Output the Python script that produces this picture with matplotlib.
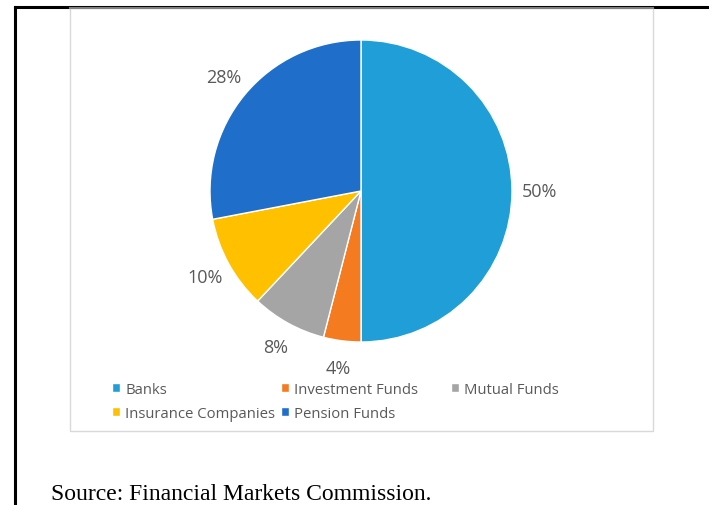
import matplotlib
matplotlib.use("Agg")
import matplotlib.pyplot as plt
from matplotlib.lines import Line2D
from matplotlib.patches import Rectangle

# data
categories = ["Banks", "Investment Funds", "Mutual Funds", "Insurance Companies", "Pension Funds"]
shares = [50, 4, 8, 10, 28]
colors = ["#1F9ED8", "#F47B20", "#A5A5A5", "#FFC000", "#1F6FCA"]
source_note = "Source: Financial Markets Commission."

W, H = 709, 506
fig = plt.figure(figsize=(W / 100, H / 100), dpi=100)
fig.patch.set_facecolor("white")

def fx(px):
    return px / W

def fy(py):
    return 1 - py / H

# page frame lines (left rule, top rule) and the chart box
fig.add_artist(Line2D([fx(15), fx(15)], [fy(8), fy(506)], color="black", lw=2.2, zorder=0))
fig.add_artist(Line2D([fx(15), fx(709)], [fy(8), fy(8)], color="black", lw=2.2, zorder=0))
fig.add_artist(Rectangle((fx(70), fy(432)), fx(653) - fx(70), fy(9) - fy(432),
                         facecolor="white", edgecolor="#D9D9D9", lw=1.0, zorder=0))
fig.add_artist(Line2D([fx(70), fx(653)], [fy(8.5), fy(8.5)], color="#7F7F7F", lw=1.5, zorder=0))

# pie
cx, cy, r = 361, 192, 151
ax = fig.add_axes([fx(cx - r), fy(cy + r), (2 * r) / W, (2 * r) / H])
ax.set_zorder(2)
wedges, _, autotexts = ax.pie(shares, colors=colors, startangle=90, counterclock=False,
                              radius=1, autopct="%d%%", pctdistance=1.18,
                              wedgeprops=dict(edgecolor="white", linewidth=1.0),
                              textprops=dict(color="#595959", fontsize=13, family="Open Sans"))
ax.set_xlim(-1, 1)
ax.set_ylim(-1, 1)
ax.set_aspect("equal")
ax.axis("off")

# legend: Excel lays entries out in equal-width columns, so one legend per column
columns = [[0, 3], [1, 4], [2]]
col_x = [112, 281, 451]
for idx, x0 in zip(columns, col_x):
    fig.legend([wedges[i] for i in idx], [categories[i] for i in idx],
               loc="upper left", bbox_to_anchor=(fx(x0), fy(383)), frameon=False,
               handlelength=0.55, handleheight=0.55, handletextpad=0.35,
               labelspacing=0.6, borderpad=0, borderaxespad=0,
               prop=dict(family="Open Sans", size=10.7), labelcolor="#595959")

fig.text(fx(51), fy(500), source_note, family="Liberation Serif", fontsize=17,
         color="black", ha="left", va="baseline")

fig.savefig("out.png", dpi=100)
